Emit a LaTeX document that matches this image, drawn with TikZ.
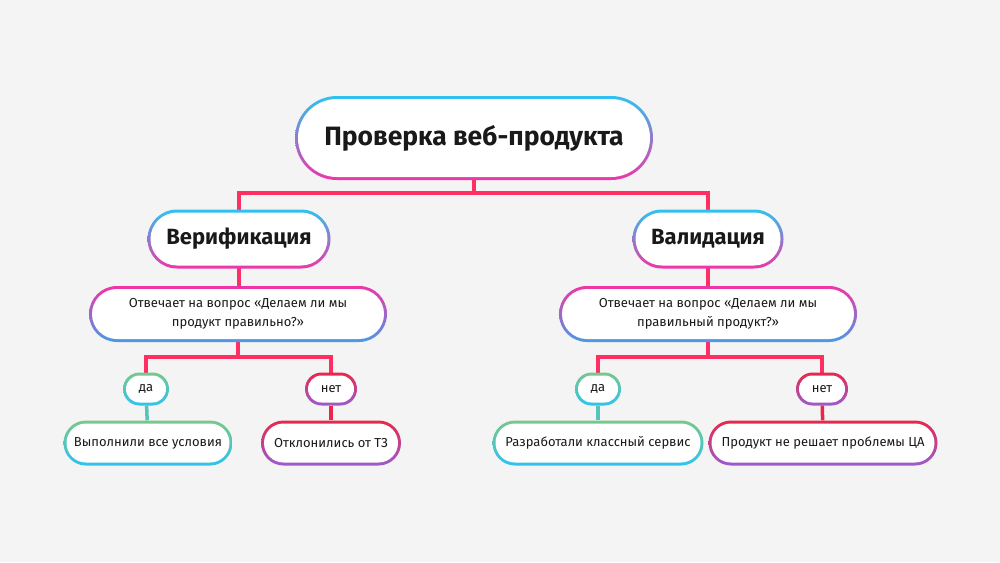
\documentclass[tikz,border=0pt]{standalone}
\usepackage{fontspec}
\setmainfont{Fira Sans}
\begin{document}
\begin{tikzpicture}[x=1pt,y=-1pt]
\definecolor{bg}{HTML}{F4F4F4}
\definecolor{cy}{HTML}{2EC3F0}
\definecolor{pk}{HTML}{F034A8}
\definecolor{pu}{HTML}{9B5BD0}
\definecolor{bl}{HTML}{4A9BE6}
\definecolor{gr}{HTML}{78C88A}
\definecolor{rd}{HTML}{E8274B}
\definecolor{ln}{HTML}{FF2E63}
\tikzset{conn/.style={draw=ln,line width=3.5pt},
 lbl/.style={inner sep=0pt,draw=none,align=center,text=black!90}}
\newcommand{\gbox}[9]{% name, x, y, w, h, colA, colB, font, text
 \pgfmathsetmacro{\rr}{#5/2}
 \shade[top color=#6,bottom color=#7,rounded corners=\rr pt]
   (#2-#4/2,#3-#5/2) rectangle (#2+#4/2,#3+#5/2);
 \pgfmathsetmacro{\ri}{#5/2-3}
 \fill[white,rounded corners=\ri pt] (#2-#4/2+3,#3-#5/2+3) rectangle (#2+#4/2-3,#3+#5/2-3);
 \node[lbl,font=#8,minimum width=#4pt,minimum height=#5pt] (#1) at (#2,#3) {#9};}
\fill[bg] (0,0) rectangle (1000,562);
\useasboundingbox (0,0) rectangle (1000,562);
\draw[conn] (474,180) -- (474,193) -| (239,212);
\draw[conn] (474,193) -| (708,212);
\draw[conn] (239,266) -- (239,290);
\draw[conn] (708,266) -- (708,290);
\draw[conn] (238,340) -- (238,357) -| (146,375);
\draw[conn] (238,357) -| (331,375);
\draw[conn] (708,340) -- (708,357) -| (598,375);
\draw[conn] (708,357) -| (822,375);
\gbox{root}{474}{138}{358}{84}{cy}{pk}{\fontsize{26.5}{30}\selectfont\bfseries}{Проверка веб-продукта}
\gbox{ver}{239}{239}{183}{59}{cy}{pk}{\fontsize{22}{25}\selectfont\bfseries}{Верификация}
\gbox{val}{708}{239}{151}{59}{cy}{pk}{\fontsize{22}{25}\selectfont\bfseries}{Валидация}
\gbox{q1}{238}{314}{298}{56}{pk}{bl}{\fontsize{13}{19}\selectfont}{Отвечает на вопрос «Делаем ли мы\\продукт правильно?»}
\gbox{q2}{708}{314}{298}{56}{pk}{bl}{\fontsize{13}{19}\selectfont}{Отвечает на вопрос «Делаем ли мы\\правильный продукт?»}
\gbox{y1}{146}{389}{46}{33}{gr}{cy}{\fontsize{13}{15}\selectfont}{да}
\gbox{n1}{331}{389}{52}{33}{rd}{pu}{\fontsize{13}{15}\selectfont}{нет}
\gbox{y2}{598}{389}{46}{33}{gr}{cy}{\fontsize{13}{15}\selectfont}{да}
\gbox{n2}{822}{389}{52}{33}{rd}{pu}{\fontsize{13}{15}\selectfont}{нет}
\gbox{a1}{148}{443}{169}{45}{gr}{cy}{\fontsize{13}{15}\selectfont}{Выполнили все условия}
\gbox{b1}{331}{443}{140}{45}{rd}{pu}{\fontsize{13}{15}\selectfont}{Отклонились от ТЗ}
\gbox{a2}{598}{443}{211}{45}{gr}{cy}{\fontsize{13}{15}\selectfont}{Разработали классный сервис}
\gbox{b2}{823}{443}{229}{45}{rd}{pu}{\fontsize{13}{15}\selectfont}{Продукт не решает проблемы ЦА}
\draw[line width=3.5pt,draw=gr!50!cy] (y1) -- (a1);
\draw[conn,draw=rd] (n1) -- (b1);
\draw[line width=3.5pt,draw=gr!50!cy] (y2) -- (a2);
\draw[conn,draw=rd] (n2) -- (b2);
\end{tikzpicture}
\end{document}
